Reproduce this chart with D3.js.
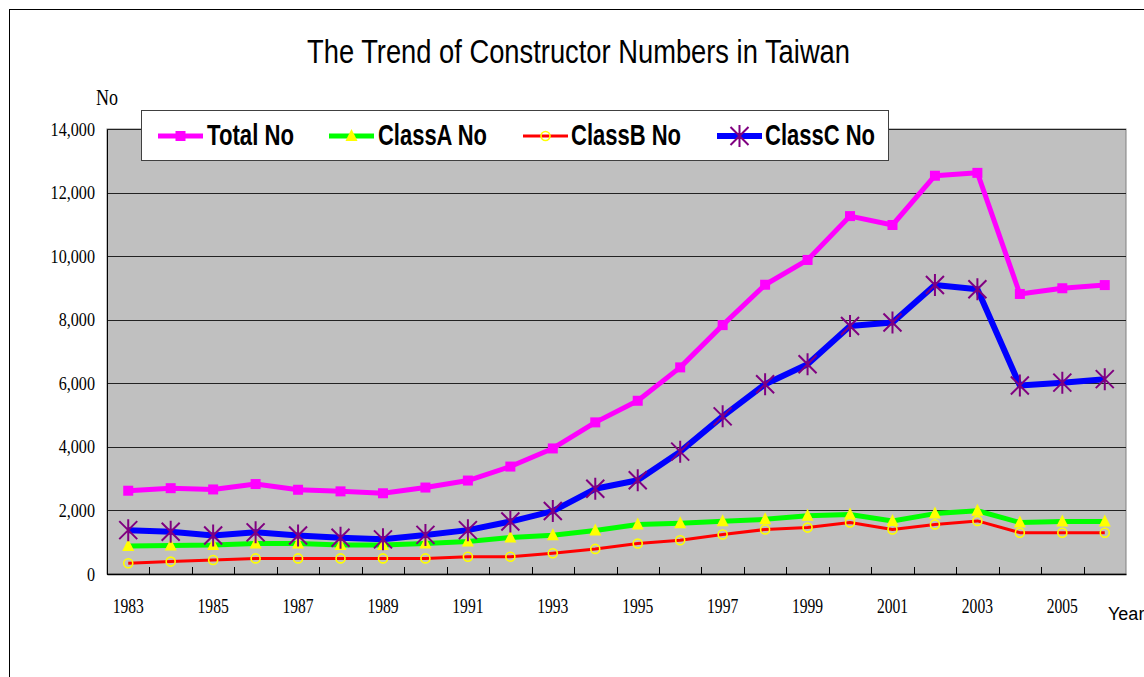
<!DOCTYPE html>
<html>
<head>
<meta charset="utf-8">
<script src="https://cdn.jsdelivr.net/npm/d3@7"></script>
<style>
  body { margin: 0; background: #fff; }
</style>
</head>
<body>
<div class="chart"></div>
<script>
// data
var years = [1983, 1984, 1985, 1986, 1987, 1988, 1989, 1990, 1991, 1992, 1993, 1994,
             1995, 1996, 1997, 1998, 1999, 2000, 2001, 2002, 2003, 2004, 2005, 2006];
var totalNo  = [2620, 2700, 2660, 2830, 2650, 2600, 2540, 2720, 2940, 3380, 3950, 4770,
                5450, 6500, 7830, 9100, 9880, 11260, 10980, 12530, 12620, 8810, 8990, 9090];
var classANo = [880, 900, 910, 960, 960, 910, 910, 960, 1020, 1150, 1220, 1370,
                1560, 1600, 1660, 1720, 1830, 1870, 1670, 1900, 1990, 1620, 1650, 1650];
var classBNo = [340, 390, 440, 490, 490, 490, 490, 490, 545, 545, 655, 790,
                960, 1060, 1245, 1400, 1460, 1620, 1400, 1560, 1670, 1300, 1300, 1300];
var classCNo = [1380, 1330, 1210, 1310, 1210, 1140, 1090, 1230, 1380, 1650, 1980, 2680,
                2950, 3850, 4960, 5970, 6600, 7800, 7910, 9090, 8960, 5930, 6020, 6130];
var yTicks = [0, 2000, 4000, 6000, 8000, 10000, 12000, 14000];
var xLabelYears = [1983, 1985, 1987, 1989, 1991, 1993, 1995, 1997, 1999, 2001, 2003, 2005];

var svgWidth = 1144;
var svgHeight = 677;
var plot = { left: 107, right: 1126, top: 129, bottom: 574 };

var svg = d3.select(".chart").append("svg")
  .attr("width", svgWidth)
  .attr("height", svgHeight)
  .style("display", "block");

// outer chart border (runs off the page right and bottom)
svg.append("rect")
  .attr("x", 9.5).attr("y", 9.5)
  .attr("width", 1300).attr("height", 1000)
  .attr("fill", "#fff").attr("stroke", "#000");

var x = d3.scaleBand().domain(years).range([plot.left, plot.right]);
var y = d3.scaleLinear().domain([0, 14000]).range([plot.bottom, plot.top]);

// plot background
svg.append("rect")
  .attr("x", plot.left).attr("y", plot.top)
  .attr("width", plot.right - plot.left).attr("height", plot.bottom - plot.top)
  .attr("fill", "#c0c0c0").attr("stroke", "#808080");

// gridlines
svg.append("g")
  .attr("transform", "translate(" + plot.left + ",0)")
  .call(d3.axisLeft(y).tickValues(yTicks.slice(1)).tickSize(-(plot.right - plot.left)).tickFormat(""))
  .call(function(g) {
    g.select(".domain").remove();
    g.selectAll("line").attr("stroke", "#222").attr("shape-rendering", "crispEdges");
  });

// y axis labels (squeezed serif, like the original)
var sy = 0.85;
svg.append("g")
  .attr("transform", "translate(" + plot.left + ",0)")
  .call(d3.axisLeft(y).tickValues(yTicks).tickSize(0).tickFormat(d3.format(",")))
  .call(function(g) {
    g.select(".domain").attr("stroke", "#000").attr("shape-rendering", "crispEdges");
    g.selectAll("text")
      .attr("font-family", "Liberation Serif")
      .attr("font-size", 19)
      .attr("fill", "#000")
      .attr("x", -12 / sy)
      .attr("transform", "scale(" + sy + ",1)");
  });

// x axis, a label on every other year
var sxl = 0.78;
svg.append("g")
  .attr("transform", "translate(0," + plot.bottom + ")")
  .call(d3.axisBottom(x).tickSize(0).tickFormat(function(d) {
    return xLabelYears.indexOf(d) >= 0 ? d : "";
  }))
  .call(function(g) {
    g.select(".domain").attr("stroke", "#000").attr("stroke-width", 1.5);
    g.selectAll("text")
      .attr("font-family", "Liberation Serif")
      .attr("font-size", 20)
      .attr("fill", "#000")
      .attr("y", 39).attr("dy", 0)
      .attr("transform", "scale(" + sxl + ",1)");
  });

// inside tick marks at category boundaries
svg.append("g").selectAll("line")
  .data(years.slice(1))
  .join("line")
  .attr("x1", function(d) { return Math.round(x(d)) + 0.5; })
  .attr("x2", function(d) { return Math.round(x(d)) + 0.5; })
  .attr("y1", plot.bottom).attr("y2", plot.bottom - 7)
  .attr("stroke", "#000");

// series
var series = [
  { name: "Total No",  values: totalNo,  color: "#ff00ff", width: 5, marker: "square" },
  { name: "ClassA No", values: classANo, color: "#00ff00", width: 5, marker: "triangle" },
  { name: "ClassB No", values: classBNo, color: "#ff0000", width: 3, marker: "circle" },
  { name: "ClassC No", values: classCNo, color: "#0000ff", width: 6, marker: "star" }
];

var line = d3.line()
  .x(function(d, i) { return x(years[i]) + x.bandwidth() / 2; })
  .y(function(d) { return y(d); });

function drawMarker(g, type) {
  if (type === "square") {
    g.append("rect").attr("x", -5).attr("y", -5).attr("width", 10).attr("height", 10)
      .attr("fill", "#ff00ff");
  } else if (type === "triangle") {
    g.append("path").attr("d", "M0,-7L6,5L-6,5Z").attr("fill", "#ffff00");
  } else if (type === "circle") {
    g.append("circle").attr("r", 4.5).attr("fill", "none")
      .attr("stroke", "#ffff00").attr("stroke-width", 1.6);
  } else {
    g.append("path").attr("d", "M-9,-9L9,9M-9,9L9,-9M0,-11L0,11")
      .attr("stroke", "#800080").attr("stroke-width", 2).attr("fill", "none");
  }
}

series.forEach(function(s) {
  svg.append("path")
    .datum(s.values)
    .attr("d", line)
    .attr("fill", "none")
    .attr("stroke", s.color)
    .attr("stroke-width", s.width)
    .attr("stroke-linejoin", "round");
  svg.append("g").selectAll("g")
    .data(s.values)
    .join("g")
    .attr("transform", function(d, i) {
      return "translate(" + (x(years[i]) + x.bandwidth() / 2) + "," + y(d) + ")";
    })
    .each(function() { drawMarker(d3.select(this), s.marker); });
});

// title
svg.append("text")
  .attr("x", 307).attr("y", 63)
  .attr("font-family", "Liberation Sans")
  .attr("font-size", 33)
  .attr("textLength", 543)
  .attr("lengthAdjust", "spacingAndGlyphs")
  .text("The Trend of Constructor Numbers in Taiwan");

// axis titles
svg.append("text")
  .attr("x", 96).attr("y", 105)
  .attr("font-family", "Liberation Serif")
  .attr("font-size", 23)
  .attr("textLength", 22)
  .attr("lengthAdjust", "spacingAndGlyphs")
  .text("No");

svg.append("text")
  .attr("x", 1108).attr("y", 620)
  .attr("font-family", "Liberation Sans")
  .attr("font-size", 18)
  .text("Year");

// legend
var legendX = [158, 329, 523, 717];
var legendTextX = [207, 378, 571, 765];
var legendTextW = [87, 109, 110, 110];

svg.append("rect")
  .attr("x", 141.5).attr("y", 110.5)
  .attr("width", 747).attr("height", 50)
  .attr("fill", "#fff").attr("stroke", "#404040");

series.forEach(function(s, i) {
  var g = svg.append("g");
  g.append("line")
    .attr("x1", legendX[i]).attr("x2", legendX[i] + 45)
    .attr("y1", 136).attr("y2", 136)
    .attr("stroke", s.color).attr("stroke-width", s.width);
  drawMarker(g.append("g").attr("transform", "translate(" + (legendX[i] + 22.5) + ",136)"), s.marker);
  g.append("text")
    .attr("x", legendTextX[i]).attr("y", 145)
    .attr("font-family", "Liberation Sans")
    .attr("font-weight", "bold")
    .attr("font-size", 30)
    .attr("textLength", legendTextW[i])
    .attr("lengthAdjust", "spacingAndGlyphs")
    .text(s.name);
});
</script>
</body>
</html>
